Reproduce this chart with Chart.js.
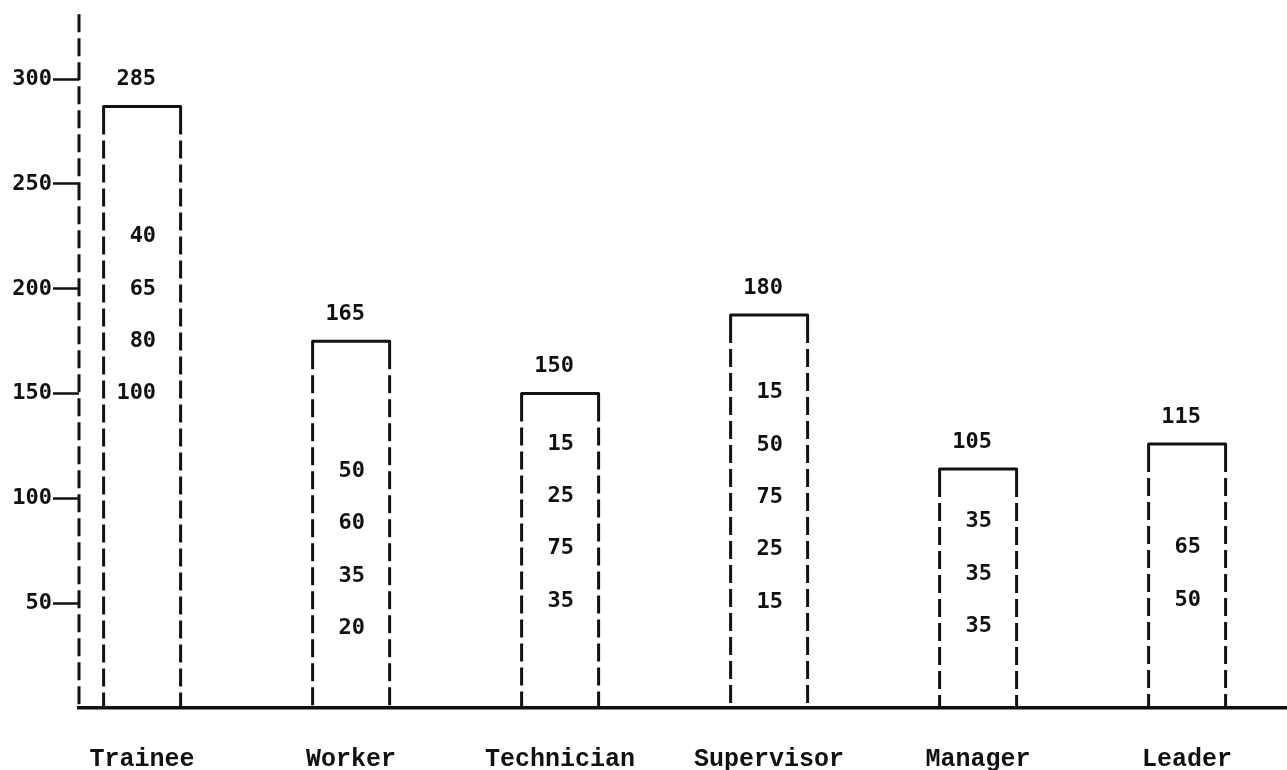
<!DOCTYPE html>
<html>
<head>
<meta charset="utf-8">
<script src="https://cdn.jsdelivr.net/npm/chart.js@4"></script>
<style>
  html, body { margin: 0; padding: 0; background: #ffffff; }
  #wrap { width: 1287px; height: 770px; position: relative; }
</style>
</head>
<body>
<div id="wrap"><canvas id="c"></canvas></div>
<script>
// ---- data ----
const categories = ['Trainee', 'Worker', 'Technician', 'Supervisor', 'Manager', 'Leader'];
const totals = [285, 165, 150, 180, 105, 115];            // printed above each bar
const barHeights = [287, 175, 150, 187.5, 114, 126];      // drawn bar heights (axis units)
const breakdowns = [
  [40, 65, 80, 100],
  [50, 60, 35, 20],
  [15, 25, 75, 35],
  [15, 50, 75, 25, 15],
  [35, 35, 35],
  [65, 50]
];
const yTickValues = [50, 100, 150, 200, 250, 300];

// ---- annotation anchors (axis units) for the breakdown columns ----
const breakdownTopLevel = [225, 113, 126, 150.5, 89, 76.5];
const breakdownStep = 25;

const ink = '#111111';
const mono = '"Liberation Mono", "DejaVu Sans Mono", monospace';
const numFont = '"DejaVu Sans Mono", "Liberation Mono", monospace';

const dashedYAxis = {
  id: 'dashedYAxis',
  afterDraw(chart) {
    const ctx = chart.ctx;
    const a = chart.chartArea;
    ctx.save();
    ctx.strokeStyle = ink;
    ctx.lineWidth = 3;
    ctx.setLineDash([18, 6]);
    ctx.beginPath();
    ctx.moveTo(a.left, a.top);
    ctx.lineTo(a.left, a.bottom);
    ctx.stroke();
    ctx.restore();
  }
};

const sketchBars = {
  id: 'sketchBars',
  afterDatasetsDraw(chart) {
    const ctx = chart.ctx;
    const yScale = chart.scales.y;
    const meta = chart.getDatasetMeta(0);
    ctx.save();
    ctx.strokeStyle = ink;
    ctx.fillStyle = ink;
    ctx.lineWidth = 3;
    ctx.lineCap = 'butt';
    ctx.lineJoin = 'round';
    meta.data.forEach((bar, i) => {
      const p = bar.getProps(['x', 'y', 'base', 'width'], true);
      const l = p.x - p.width / 2, r = p.x + p.width / 2, t = p.y, b = p.base;
      const k = 28;
      ctx.setLineDash([]);
      ctx.beginPath();
      ctx.moveTo(l, t + k); ctx.lineTo(l, t); ctx.lineTo(r, t); ctx.lineTo(r, t + k);
      ctx.stroke();
      ctx.setLineDash([18, 6]);
      ctx.beginPath();
      ctx.moveTo(l, t + k + 6); ctx.lineTo(l, b);
      ctx.moveTo(r, t + k + 6); ctx.lineTo(r, b);
      ctx.stroke();
      ctx.setLineDash([]);
      ctx.font = 'bold 22px ' + numFont;
      ctx.textAlign = 'right';
      ctx.textBaseline = 'middle';
      ctx.fillText(String(totals[i]), p.x + 14, t - 27);
      breakdowns[i].forEach((v, j) => {
        const py = yScale.getPixelForValue(breakdownTopLevel[i] - j * breakdownStep);
        ctx.fillText(String(v), p.x + 14, py);
      });
    });
    ctx.restore();
  }
};

new Chart(document.getElementById('c'), {
  type: 'bar',
  data: {
    datasets: [{
      data: categories.map((c, i) => ({ x: i, y: barHeights[i] })),
      backgroundColor: 'rgba(0,0,0,0)',
      borderWidth: 0,
      barThickness: 77
    }]
  },
  options: {
    responsive: true,
    maintainAspectRatio: false,
    animation: false,
    layout: { padding: { top: 10, left: 0, right: 0, bottom: 0 } },
    plugins: { legend: { display: false }, tooltip: { enabled: false } },
    scales: {
      x: {
        type: 'linear',
        offset: false,
        min: -0.302,
        max: 5.478,
        afterBuildTicks: s => { s.ticks = categories.map((c, i) => ({ value: i })); },
        afterFit: s => { s.height = 62; },
        grid: { display: true, offset: false, drawOnChartArea: false, drawTicks: false },
        border: { display: true, color: ink, width: 3.5 },
        ticks: {
          autoSkip: false, maxRotation: 0, padding: 37, color: ink,
          font: { family: mono, size: 25, weight: 'bold' },
          callback: v => categories[v]
        }
      },
      y: {
        min: 0,
        max: 331,
        afterBuildTicks: s => { s.ticks = yTickValues.map(v => ({ value: v })); },
        afterFit: s => { s.width = 79; },
        grid: { drawOnChartArea: false, drawTicks: true, tickLength: 26, tickWidth: 2.5, color: ink },
        border: { display: false },
        ticks: {
          padding: 1, color: ink,
          font: { family: numFont, size: 22, weight: 'bold' },
          callback: v => String(v)
        }
      }
    }
  },
  plugins: [sketchBars, dashedYAxis]
});
</script>
</body>
</html>
